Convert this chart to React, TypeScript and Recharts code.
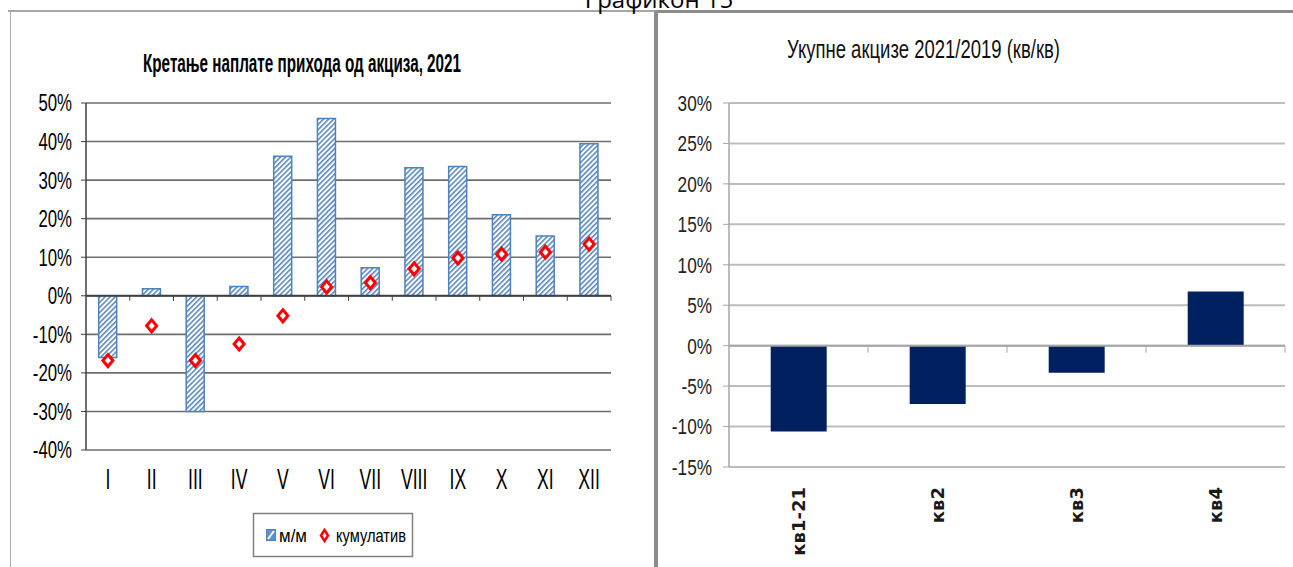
import React from 'react'
import { ComposedChart, BarChart, Bar, Line, XAxis, YAxis, CartesianGrid, ReferenceLine } from 'recharts'

// left chart: monthly excise revenue, 2021
const months = ['I', 'II', 'III', 'IV', 'V', 'VI', 'VII', 'VIII', 'IX', 'X', 'XI', 'XII']
const monthOnMonth = [-16, 1.8, -30, 2.4, 36.2, 46, 7.3, 33.2, 33.5, 21, 15.5, 39.4]
const cumulative = [-16.8, -7.8, -16.8, -12.5, -5.2, 2.3, 3.4, 7, 9.8, 10.8, 11.3, 13.4]
const leftTicks = [-40, -30, -20, -10, 0, 10, 20, 30, 40, 50]

// right chart: total excise 2021/2019 by quarter
const quarters = ['кв1-21', 'кв2', 'кв3', 'кв4']
const quarterly = [-10.6, -7.2, -3.35, 6.7]
const rightTicks = [-15, -10, -5, 0, 5, 10, 15, 20, 25, 30]

const leftData = months.map((m, i) => ({ m, mm: monthOnMonth[i], cum: cumulative[i] }))
const rightData = quarters.map((q, i) => ({ q, v: quarterly[i] }))

const SANS = "'Liberation Sans', Arial, sans-serif"

const Diamond = (props: any) => {
  const { cx, cy } = props
  if (cx == null || cy == null) return null
  return (
    <path
      d={`M${cx},${cy - 6} L${cx + 5},${cy} L${cx},${cy + 6} L${cx - 5},${cy} Z`}
      fill="#fff" stroke="#ff0000" strokeWidth={3}
    />
  )
}

// zero line with small tick marks between categories
const zeroAxis = (n: number, len: number, color: string) => (p: any) => {
  const { x1, x2, y1 } = p
  const step = (x2 - x1) / n
  return (
    <g>
      <line x1={x1} y1={y1} x2={x2} y2={y1} stroke={color} strokeWidth={2} />
      {Array.from({ length: n }, (_, i) => (
        <line key={i} x1={x1 + (i + 1) * step} x2={x1 + (i + 1) * step} y1={y1} y2={y1 + len} stroke={color} strokeWidth={1} />
      ))}
    </g>
  )
}

// condensed text, the source picture is squeezed horizontally
const squeezed = (sx: number, sy: number, size: number, dx = 0, dy = 0, anchor = 'end', fill = '#000') =>
  ({ x, y, payload }: any) => (
    <text
      transform={`translate(${x + dx},${y + dy}) scale(${sx},${sy})`}
      textAnchor={anchor} dy="0.36em" fontFamily={SANS} fontSize={size} fill={fill}
    >
      {typeof payload.value === 'number' ? `${payload.value}%` : payload.value}
    </text>
  )

const LeftYTick = squeezed(0.8, 1.12, 21)
const RightYTick = squeezed(0.86, 1.1, 20, 0, 0, 'end', '#222')
const MonthTick = squeezed(0.8, 1.36, 22, 0, 28, 'middle')

const QuarterTick = ({ x, y, payload }: any) => (
  <text
    transform={`translate(${x},${y + 20}) rotate(-90)`}
    textAnchor="end" dy="0.36em" fontFamily="'DejaVu Sans', sans-serif" fontWeight="bold" fontSize={18} fill="#1a1a1a"
  >
    {payload.value}
  </text>
)

function LeftChart() {
  return (
    <ComposedChart width={644} height={555} data={leftData} margin={{ top: 91, right: 45, bottom: 0, left: 0 }} barCategoryGap="29%">
      <defs>
        <pattern id="hatch" width="3.6" height="3.6" patternUnits="userSpaceOnUse" patternTransform="rotate(45)">
          <rect width="3.6" height="3.6" fill="#ffffff" />
          <line x1="0.8" y1="0" x2="0.8" y2="3.6" stroke="#4f81bd" strokeWidth="1.5" />
        </pattern>
      </defs>
      <CartesianGrid vertical={false} stroke="#6e6e6e" strokeWidth={1.6} />
      <XAxis dataKey="m" axisLine={false} tickLine={false} tickSize={0} tickMargin={0} height={117} interval={0} tick={<MonthTick />} />
      <YAxis
        domain={[-40, 50]} ticks={leftTicks} width={74} tickSize={5} tickMargin={9}
        axisLine={{ stroke: '#404040', strokeWidth: 1.5 }} tickLine={{ stroke: '#404040' }}
        tick={<LeftYTick />}
      />
      <YAxis yAxisId="frame" orientation="right" width={0} tick={false} tickLine={false} axisLine={{ stroke: '#8c8c8c', strokeWidth: 2 }} />
      <Bar dataKey="mm" fill="url(#hatch)" stroke="#4f81bd" strokeWidth={1.5} isAnimationActive={false} />
      <ReferenceLine y={0} shape={zeroAxis(12, 5, '#404040')} />
      <Line
        dataKey="cum" stroke="none" strokeWidth={0} isAnimationActive={false} activeDot={false}
        dot={(p: any) => <Diamond key={p.index} {...p} />}
      />
    </ComposedChart>
  )
}

function RightChart() {
  return (
    <BarChart width={634} height={554} data={rightData} margin={{ top: 90, right: 8, bottom: 0, left: 0 }} barCategoryGap="30%">
      <CartesianGrid vertical={false} stroke="#bdbdbd" strokeWidth={2} />
      <XAxis dataKey="q" axisLine={false} tickLine={false} tickSize={0} tickMargin={0} height={100} interval={0} tick={<QuarterTick />} />
      <YAxis
        domain={[-15, 30]} ticks={rightTicks} width={70} tickSize={6} tickMargin={11}
        axisLine={{ stroke: '#a6a6a6', strokeWidth: 1.5 }} tickLine={{ stroke: '#a6a6a6' }}
        tick={<RightYTick />}
      />
      <Bar dataKey="v" fill="#002060" isAnimationActive={false} />
      <ReferenceLine y={0} shape={zeroAxis(4, 7, '#a6a6a6')} />
    </BarChart>
  )
}

export default function App() {
  return (
    <div style={{ position: 'relative', width: 1293, height: 567, overflow: 'hidden', background: '#fff' }}>
      <style>{'body{margin:0}'}</style>
      <div style={{ position: 'absolute', left: 8, top: 10, width: 4, height: 0, borderTop: '2px solid #a6a6a6' }} />
      <div style={{
        position: 'absolute', left: 10, top: 10, width: 646, height: 600, boxSizing: 'border-box',
        borderTop: '2px solid #a6a6a6', borderLeft: '1px solid #b0b0b0', borderRight: '2px solid #8c8c8c',
      }} />
      <div style={{
        position: 'absolute', left: 656, top: 10, width: 640, height: 600, boxSizing: 'border-box',
        borderTop: '3px solid #8c8c8c', borderLeft: '2px solid #8c8c8c',
      }} />
      <div style={{ position: 'absolute', left: 12, top: 12 }}>
        <LeftChart />
      </div>
      <div style={{ position: 'absolute', left: 659, top: 13 }}>
        <RightChart />
      </div>
      <svg width={1293} height={567} style={{ position: 'absolute', left: 0, top: 0, pointerEvents: 'none' }}>
        <text x={659} y={8} textAnchor="middle" fontFamily="'Open Sans', sans-serif" fontSize={24} fill="#000">Графикон 15</text>
        <text x={143} y={72} textLength={318} lengthAdjust="spacingAndGlyphs" fontFamily={SANS} fontWeight="bold" fontSize={25} fill="#000">
          Кретање наплате прихода од акциза, 2021
        </text>
        <text x={787} y={58} textLength={273} lengthAdjust="spacingAndGlyphs" fontFamily={SANS} fontSize={25} fill="#111">
          Укупне акцизе 2021/2019 (кв/кв)
        </text>
        {/* legend of the left chart */}
        <rect x={253.5} y={513.5} width={159} height={43} fill="#fff" stroke="#808080" strokeWidth={1.5} />
        <rect x={266.5} y={529.5} width={9} height={11} fill="#5b8fd0" stroke="#4f81bd" />
        <line x1={268} y1={539} x2={274} y2={531} stroke="#fff" strokeWidth={2} />
        <text x={279} y={542} textLength={28} lengthAdjust="spacingAndGlyphs" fontFamily={SANS} fontSize={19} fill="#000">м/м</text>
        <path d="M324.5,530 L328,535.5 L324.5,541 L321,535.5 Z" fill="#fff" stroke="#ff0000" strokeWidth={2.5} />
        <text x={336} y={542} textLength={70} lengthAdjust="spacingAndGlyphs" fontFamily={SANS} fontSize={19} fill="#000">кумулатив</text>
      </svg>
    </div>
  )
}
